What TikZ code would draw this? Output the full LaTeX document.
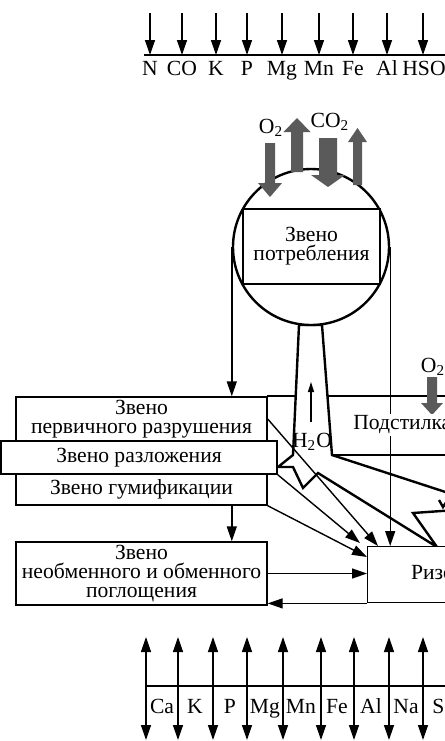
\documentclass[tikz,border=0pt]{standalone}
\usepackage{fontspec}
\setmainfont{Liberation Serif}
\usetikzlibrary{arrows.meta, calc}
\definecolor{gasgray}{RGB}{90, 90, 90}
\newcommand{\boxfont}{\fontsize{10.8}{9.5}\selectfont}

\begin{document}
\begin{tikzpicture}[x=0.5pt, y=-0.5pt,
  box/.style={draw, fill=white, line width=0.7pt, inner sep=0pt, align=center, font=\boxfont},
  conn/.style={line width=0.7pt, -{Triangle[length=7.5pt, width=5pt]}},
  both/.style={line width=0.7pt, {Triangle[length=7.5pt, width=5pt]}-{Triangle[length=7.5pt, width=5pt]}},
  root/.style={line width=1.2pt, fill=white},
  elem/.style={font=\boxfont, inner sep=0pt, anchor=base},
  gas/.style={fill=gasgray}]
  \useasboundingbox (0,0) rectangle (445,741);
  \clip (0,0) rectangle (445,741);

  % Input elements (top)
  \foreach \x/\el in {150/N, 182/CO, 216/K, 247/P, 282/Mg, 319/Mn, 353/Fe, 387/Al, 423/HSO} {
    \coordinate (in-\el-a) at (\x,13);
    \coordinate (in-\el-b) at (\x,55);
    \draw[conn] (in-\el-a) -- (in-\el-b);
  }
  \foreach \x/\el in {150/N, 182/CO, 216/K, 247/P, 282/Mg, 319/Mn, 353/Fe, 387/Al}
    \node[elem] (lab-\el) at (\x,75) {\el};
  \node[elem, anchor=base west] (lab-HSO) at (402,75) {HSO\textsubscript{4}};
  \coordinate (inL) at (144,55);
  \draw[line width=0.7pt] (inL) -- ++(320,0);

  % Litter edges
  \coordinate (litterT) at (267,396);
  \coordinate (litterB) at (332,455);
  \draw[line width=0.7pt] (litterT) -- ++(200,0);
  \draw[line width=0.7pt] (litterB) -- ++(150,0);

  % Trunk and roots
  \draw[root] (299,325) -- (293,455) -- (278,467) -- (293,467) -- (303,488) -- (318,473)
    -- (437,547) -- (413,513) -- (470,509) -- (470,500) -- (332,455) -- (322,325) -- cycle;
  \draw[line width=1.2pt] (439,500) -- (443,507) -- (447,501);

  % Consumption link
  \node[circle, draw, fill=white, line width=1.2pt, minimum size=78pt, inner sep=0pt] (circ) at (311,247) {};
  \node[box] (consume) at (311.5,246.5) [minimum width=68.5pt, minimum height=37.5pt] {Звено\\потребления};

  % Gas exchange
  \fill[gas] (265,143) -- (275,143) -- (275,183) -- (282,183) -- (270,197) -- (258,183) -- (265,183) -- cycle;
  \fill[gas] (291,172) -- (303,172) -- (303,132) -- (310.5,132) -- (297,118) -- (283.5,132) -- (291,132) -- cycle;
  \fill[gas] (319,138) -- (337,138) -- (337,175) -- (345,175) -- (328,187) -- (311,175) -- (319,175) -- cycle;
  \fill[gas] (353,185) -- (362,185) -- (362,142) -- (367,142) -- (357.5,128) -- (348,142) -- (353,142) -- cycle;
  \fill[gas] (427,377) -- (437,377) -- (437,403) -- (443,403) -- (432,415) -- (421,403) -- (427,403) -- cycle;
  \node[font=\boxfont, inner sep=0pt] (o2a) at (271,128) {O\textsubscript{2}};
  \node[font=\boxfont, inner sep=0pt] (co2) at (330,122) {CO\textsubscript{2}};
  \node[font=\boxfont, inner sep=0pt] (o2b) at (433,367) {O\textsubscript{2}};

  % Soil links
  \node[box, minimum width=125.5pt, minimum height=22pt] (first) at (141.5,419) {Звено\\первичного разрушения};
  \node[box, minimum width=138pt, minimum height=16.5pt] (decomp) at (139,457.5) {Звено разложения};
  \node[box, minimum width=125.5pt, minimum height=15.5pt] (humif) at (141.5,489.5) {Звено гумификации};
  \node[box, minimum width=125.5pt, minimum height=31.5pt] (absorb) at (141.5,573.5) {Звено\\необменного и обменного\\поглощения};
  \node[box, anchor=north west, minimum width=92pt, minimum height=28pt] (rhizo) at (367,546) {Ризосфера};

  % Flows
  \draw[conn] (circ.west) -- (circ.west |- first.north);
  \draw[conn] (circ.east) -- (circ.east |- rhizo.north);
  \draw[conn] (circ.west |- humif.south) -- (circ.west |- absorb.north);
  \draw[conn] (absorb.east) -- (absorb.east -| rhizo.west);
  \draw[conn] (rhizo.south west) -- (rhizo.south west -| absorb.east);
  \draw[conn] (first.east) -- ($(rhizo.north west)+(11,0)$);
  \draw[conn] (decomp.south east) -- ($(rhizo.north west)+(-7,-3)$);
  \draw[conn] (humif.south east) -- ($(rhizo.north west)+(0,11)$);

  % Water uptake
  \node[font=\boxfont, inner sep=0pt] (water) at (312,442) {H\textsubscript{2}O};
  \coordinate (up0) at (311,422);
  \coordinate (up1) at (311,382);
  \draw[line width=0.7pt, -{Triangle[length=5pt, width=3pt]}] (up0) -- (up1);

  \node[font=\boxfont, fill=white, inner sep=1pt, anchor=west] (litter) at (351,425) {Подстилка};

  % Output elements (bottom)
  \foreach \x [count=\i] in {146, 178, 213, 247, 283, 321, 354, 389, 423} {
    \coordinate (outT\i) at (\x,637);
    \coordinate (outB\i) at (\x,740);
    \draw[both] (outT\i) -- (outB\i);
  }
  \coordinate (outL) at (146,686);
  \draw[line width=0.7pt] (outL) -- ++(320,0);
  \foreach \x/\el in {162/Ca, 195/K, 230/P, 265/Mg, 301/Mn, 337/Fe, 371/Al, 406/Na}
    \node[elem] (out-\el) at (\x,713) {\el};
  \node[elem, anchor=base west] (out-S) at (432,713) {S};
\end{tikzpicture}
\end{document}
